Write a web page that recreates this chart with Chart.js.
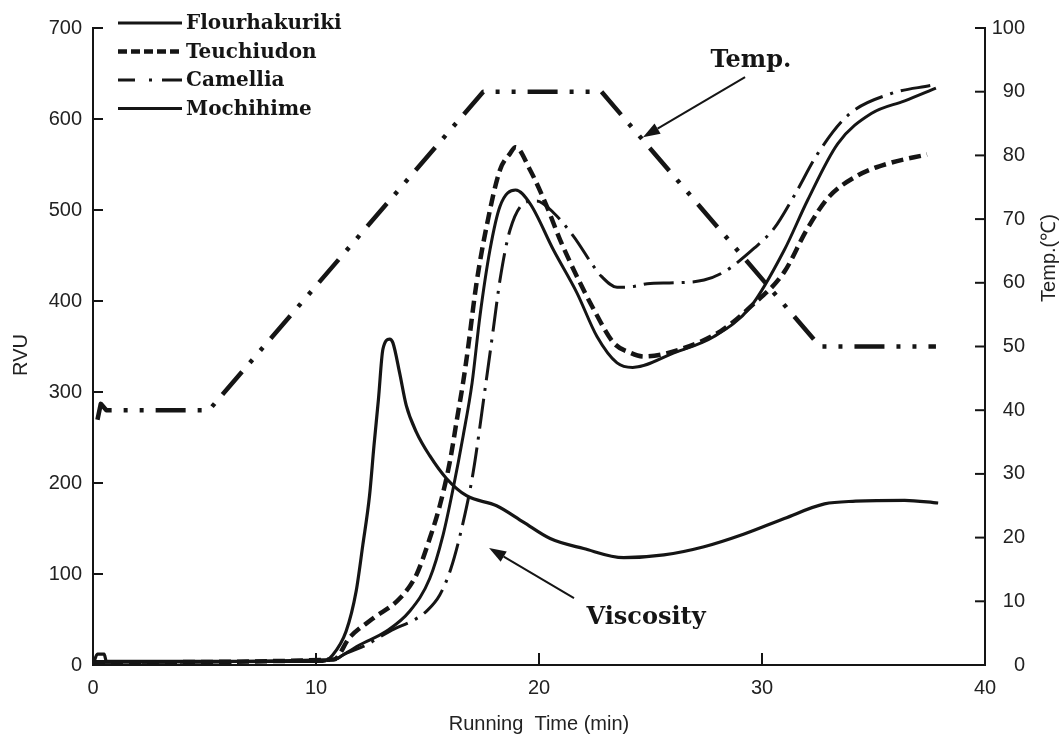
<!DOCTYPE html>
<html>
<head>
<meta charset="utf-8">
<title>RVA pasting profiles</title>
<script src="https://cdn.jsdelivr.net/npm/chart.js@4.4.1/dist/chart.umd.min.js"></script>
<style>
  html, body { margin: 0; padding: 0; background: #fff; }
  #wrap { width: 1061px; height: 738px; }
</style>
</head>
<body>
<div id="wrap"><canvas id="rvaChart" width="1061" height="738"></canvas></div>
<script>
// tick labels
var timeTicks = [0, 10, 20, 30, 40];
var rvuTicks = [0, 100, 200, 300, 400, 500, 600, 700];
var tempTicks = [0, 10, 20, 30, 40, 50, 60, 70, 80, 90, 100];

// Flourhakuriki (solid)
var flourTime = [0, 10.8, 11.4, 11.95, 13.15, 14.2, 15.1, 15.7, 16.15, 16.6, 17.0, 17.35, 17.8, 18.25, 18.95, 19.6, 20.65, 21.7, 22.6, 23.5, 24.2, 26.05, 27.85, 29.5, 31.0, 32.05, 33.4, 34.9, 36.4, 37.8];
var flourRVU = [3, 6, 14, 22, 37, 59, 95, 143, 194, 252, 310, 383, 456, 504, 522, 507, 456, 409, 361, 332, 327, 343, 361, 394, 456, 511, 573, 606, 620, 634];

// Teuchiudon (dashed)
var teuchiTime = [0, 10.8, 11.5, 12.55, 13.75, 14.5, 15.1, 15.55, 16.0, 16.3, 16.6, 16.8, 17.2, 17.65, 18.25, 18.7, 18.95, 19.6, 20.35, 20.95, 21.7, 22.45, 23.35, 24.1, 24.7, 26.35, 28.15, 29.5, 31.0, 32.0, 32.95, 34.3, 35.65, 37.4];
var teuchiRVU = [3, 6, 30, 51, 73, 99, 139, 175, 223, 267, 311, 345, 420, 482, 544, 562, 569, 544, 504, 467, 427, 391, 354, 343, 339, 347, 367, 394, 432, 478, 513, 538, 551, 561];

// Camellia (dash-dot)
var camelliaTime = [0, 10.8, 11.2, 12.25, 13.3, 14.5, 14.95, 15.55, 16.05, 16.6, 17.05, 17.58, 17.95, 18.25, 18.7, 19.45, 19.9, 20.65, 21.55, 22.45, 22.8, 23.5, 24.25, 24.85, 26.05, 27.4, 28.3, 29.65, 30.55, 31.45, 32.5, 33.85, 35.8, 37.6];
var camelliaRVU = [3, 5, 11, 22, 37, 51, 59, 77, 106, 157, 212, 303, 369, 423, 478, 509, 510, 497, 471, 438, 427, 415, 416, 419, 420, 423, 432, 458, 480, 516, 562, 604, 628, 637];

// Mochihime (solid, early peak)
var mochiTime = [0, 0.2, 0.5, 0.6, 10.3, 10.75, 11.35, 11.8, 12.1, 12.4, 12.6, 12.8, 13.0, 13.3, 13.45, 13.75, 14.05, 14.5, 15.1, 15.85, 16.75, 18.1, 19.3, 20.5, 22.0, 23.8, 25.6, 27.4, 29.2, 31.0, 32.8, 34.2, 36.4, 37.9];
var mochiRVU = [0, 12, 12, 4, 4, 11, 37, 81, 132, 186, 241, 292, 347, 358, 354, 321, 285, 256, 230, 205, 186, 175, 157, 139, 128, 118, 121, 130, 144, 161, 177, 180, 181, 178];

// temperature profile
var tempTime = [0.2, 0.35, 0.6, 5.2, 17.5, 22.8, 32.6, 37.8];
var tempDeg = [38.5, 41, 40, 40, 90, 90, 50, 50];

function toPoints(xs, ys) {
  return xs.map(function (x, i) { return { x: x, y: ys[i] }; });
}

var ink = '#151515';

var datasets = [
  { label: 'Flourhakuriki', data: toPoints(flourTime, flourRVU), borderColor: ink, borderWidth: 3,
    borderDash: [], legendDash: [] },
  { label: 'Teuchiudon', data: toPoints(teuchiTime, teuchiRVU), borderColor: ink, borderWidth: 4.5,
    borderDash: [12, 6], legendDash: [9, 4] },
  { label: 'Camellia', data: toPoints(camelliaTime, camelliaRVU), borderColor: ink, borderWidth: 3,
    borderDash: [30, 8, 3, 8], legendDash: [17, 14, 3, 10, 19, 0] },
  { label: 'Mochihime', data: toPoints(mochiTime, mochiRVU), borderColor: ink, borderWidth: 3.2,
    borderDash: [], legendDash: [] },
  { label: 'Temp', data: toPoints(tempTime, tempDeg), borderColor: ink, borderWidth: 4.5,
    borderDash: [30, 12, 4, 12, 4, 12], yAxisID: 'y2', tension: 0, cubicInterpolationMode: 'default',
    noLegend: true }
];

var notes = [
  { text: 'Temp.', x: 29.5, y: 664, fromX: 29.24, fromY: 646, toX: 24.66, toY: 580 },
  { text: 'Viscosity', x: 24.8, y: 52, fromX: 21.57, fromY: 73.6, toX: 17.76, toY: 128.6 }
];

var tickFont = { family: "'Liberation Sans', Arial, sans-serif", size: 20 };
var tickCss = "20px 'Liberation Sans', Arial, sans-serif";
var titleFont = "20px 'Liberation Sans', Arial, sans-serif";
var serifBold = "'DejaVu Serif', 'Liberation Serif', serif";

function fixedTicks(list) {
  return function (scale) { scale.ticks = list.map(function (v) { return { value: v }; }); };
}

function arrow(ctx, x0, y0, x1, y1) {
  var a = Math.atan2(y1 - y0, x1 - x0);
  var len = 17, half = 6;
  var bx = x1 - len * Math.cos(a), by = y1 - len * Math.sin(a);
  ctx.beginPath();
  ctx.moveTo(x0, y0);
  ctx.lineTo(bx, by);
  ctx.lineWidth = 2;
  ctx.stroke();
  ctx.beginPath();
  ctx.moveTo(x1, y1);
  ctx.lineTo(bx + half * Math.sin(a), by - half * Math.cos(a));
  ctx.lineTo(bx - half * Math.sin(a), by + half * Math.cos(a));
  ctx.closePath();
  ctx.fill();
}

var decor = {
  id: 'decor',
  afterDraw: function (chart) {
    var ctx = chart.ctx;
    var xs = chart.scales.x, ys = chart.scales.y, ts = chart.scales.y2;
    var area = chart.chartArea;
    ctx.save();
    ctx.strokeStyle = ink;
    ctx.fillStyle = ink;
    ctx.lineWidth = 2;

    // inward tick marks
    timeTicks.forEach(function (v) {
      var px = xs.getPixelForValue(v);
      ctx.beginPath(); ctx.moveTo(px, area.bottom); ctx.lineTo(px, area.bottom - 12); ctx.stroke();
    });
    rvuTicks.forEach(function (v) {
      var py = ys.getPixelForValue(v);
      ctx.beginPath(); ctx.moveTo(area.left, py); ctx.lineTo(area.left + 10, py); ctx.stroke();
    });
    tempTicks.forEach(function (v) {
      var py = ts.getPixelForValue(v);
      ctx.beginPath(); ctx.moveTo(area.right, py); ctx.lineTo(area.right - 10, py); ctx.stroke();
    });

    // right axis labels, right aligned
    ctx.fillStyle = '#222';
    ctx.font = tickCss;
    ctx.textAlign = 'right';
    ctx.textBaseline = 'middle';
    tempTicks.forEach(function (v) {
      ctx.fillText(String(v), area.right + 40, ts.getPixelForValue(v));
    });

    // axis titles
    ctx.font = titleFont;
    ctx.textAlign = 'center';
    ctx.fillText('Running  Time (min)', (area.left + area.right) / 2, 724);
    ctx.save();
    ctx.translate(21, 355);
    ctx.rotate(-Math.PI / 2);
    ctx.fillText('RVU', 0, 0);
    ctx.restore();
    ctx.save();
    ctx.translate(1049, 258);
    ctx.rotate(-Math.PI / 2);
    ctx.fillText('Temp.(\u2103)', 0, 0);
    ctx.restore();

    // legend
    ctx.fillStyle = ink;
    ctx.font = 'bold 20px ' + serifBold;
    ctx.textAlign = 'left';
    var row = 0;
    chart.data.datasets.forEach(function (ds) {
      if (ds.noLegend) return;
      var y = 23 + row * 28.5;
      ctx.save();
      ctx.lineWidth = ds.borderWidth;
      ctx.setLineDash(ds.legendDash);
      ctx.beginPath(); ctx.moveTo(area.left + 25, y); ctx.lineTo(area.left + 89, y); ctx.stroke();
      ctx.restore();
      ctx.fillText(ds.label, area.left + 93, y + 1);
      row++;
    });

    // annotations
    ctx.font = 'bold 24px ' + serifBold;
    ctx.textAlign = 'center';
    notes.forEach(function (n) {
      ctx.fillText(n.text, xs.getPixelForValue(n.x), ys.getPixelForValue(n.y));
      arrow(ctx, xs.getPixelForValue(n.fromX), ys.getPixelForValue(n.fromY),
        xs.getPixelForValue(n.toX), ys.getPixelForValue(n.toY));
    });
    ctx.restore();
  }
};

var rvaChart = new Chart(document.getElementById('rvaChart').getContext('2d'), {
  type: 'line',
  data: { datasets: datasets },
  options: {
    responsive: false,
    animation: false,
    devicePixelRatio: 1,
    layout: { padding: { top: 28, left: 0, right: 0, bottom: 0 } },
    elements: {
      point: { radius: 0 },
      line: { cubicInterpolationMode: 'monotone', fill: false, borderCapStyle: 'butt', borderJoinStyle: 'round' }
    },
    plugins: { legend: { display: false }, tooltip: { enabled: false } },
    scales: {
      x: {
        type: 'linear', min: 0, max: 40,
        afterBuildTicks: fixedTicks(timeTicks),
        afterFit: function (s) { s.height = 73; },
        grid: { drawOnChartArea: false, drawTicks: false },
        border: { display: true, color: ink, width: 2 },
        ticks: { font: tickFont, color: '#222', padding: 11, maxRotation: 0 }
      },
      y: {
        type: 'linear', position: 'left', min: 0, max: 700,
        afterBuildTicks: fixedTicks(rvuTicks),
        afterFit: function (s) { s.width = 93; },
        grid: { drawOnChartArea: false, drawTicks: false },
        border: { display: true, color: ink, width: 2 },
        ticks: { font: tickFont, color: '#222', padding: 11 }
      },
      y2: {
        type: 'linear', position: 'right', min: 0, max: 100,
        afterBuildTicks: fixedTicks(tempTicks),
        afterFit: function (s) { s.width = 76; },
        grid: { drawOnChartArea: false, drawTicks: false },
        border: { display: true, color: ink, width: 2 },
        ticks: { display: false }
      }
    }
  },
  plugins: [decor]
});
</script>
</body>
</html>
